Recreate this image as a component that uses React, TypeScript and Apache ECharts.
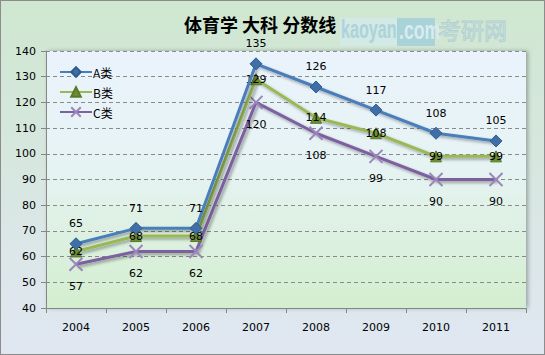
import React, { useEffect, useRef } from "react";
import * as echarts from "echarts";

const years = ["2004", "2005", "2006", "2007", "2008", "2009", "2010", "2011"];
const seriesA = [65, 71, 71, 135, 126, 117, 108, 105];
const seriesB = [62, 68, 68, 129, 114, 108, 99, 99];
const seriesC = [57, 62, 62, 120, 108, 99, 90, 90];
const seriesNames = ["A类", "B类", "C类"];
const titleText = "体育学 大科 分数线";

const FONT = "'DejaVu Sans', 'Noto Sans CJK SC', sans-serif";

export default function App() {
  const ref = useRef<HTMLDivElement>(null);
  useEffect(() => {
    document.body.style.margin = "0";
    const chart = echarts.init(ref.current!, null, { renderer: "svg" });
    const shadow = {
      shadowColor: "rgba(0,0,0,0.35)",
      shadowBlur: 3,
      shadowOffsetX: 2,
      shadowOffsetY: 2,
    };
    const labelStyle = { color: "#000", fontSize: 11, fontFamily: FONT };
    chart.setOption({
      animation: false,
      backgroundColor: new echarts.graphic.LinearGradient(0, 0, 0, 1, [
        { offset: 0, color: "#cfe7d0" },
        { offset: 1, color: "#e0e7f2" },
      ]),
      title: {
        text: titleText,
        left: 178,
        top: 9,
        textStyle: { fontSize: 18, fontWeight: "bold", color: "#000", fontFamily: "'Noto Sans CJK SC', sans-serif" },
      },
      legend: {
        orient: "vertical",
        left: 53,
        top: 60,
        itemGap: 8,
        itemWidth: 32,
        itemHeight: 12,
        textStyle: { fontSize: 12, color: "#000", fontFamily: "'Noto Sans CJK SC', sans-serif", padding: [0, 0, 0, -4] },
        data: seriesNames,
      },
      grid: {
        left: 45,
        right: 18,
        top: 50,
        bottom: 46,
        show: true,
        borderWidth: 0,
        backgroundColor: new echarts.graphic.LinearGradient(0, 0, 0, 1, [
          { offset: 0, color: "#eaf3fc" },
          { offset: 0.45, color: "#e6f3f3" },
          { offset: 1, color: "#d3eecf" },
        ]),
        shadowColor: "rgba(0,0,0,0.3)",
        shadowBlur: 4,
        shadowOffsetX: 2,
        shadowOffsetY: 0,
      },
      xAxis: {
        type: "category",
        data: years,
        boundaryGap: true,
        axisLine: { lineStyle: { color: "#868686", width: 1 } },
        axisTick: { show: true, length: 5, lineStyle: { color: "#868686" } },
        axisLabel: { color: "#000", fontSize: 11, fontFamily: FONT, margin: 14 },
      },
      yAxis: {
        type: "value",
        min: 40,
        max: 140,
        interval: 10,
        axisLine: { show: true, lineStyle: { color: "#868686", width: 1 } },
        axisTick: { show: true, length: 5, lineStyle: { color: "#868686" } },
        axisLabel: { color: "#000", fontSize: 11, fontFamily: FONT, margin: 10 },
        splitLine: { show: true, lineStyle: { color: "#8a8a8a", type: [4, 3], width: 1 } },
      },
      graphic: [
        {
          type: "rect",
          shape: { x: 339, y: 17, width: 57, height: 28 },
          style: { fill: "#d2e9e5" },
          silent: true,
        },
        {
          type: "text",
          x: 340,
          y: 15,
          scaleX: 0.62,
          style: {
            text: "kaoyan",
            font: "bold 26px 'Liberation Sans', sans-serif",
            fill: "#acd3d9",
          },
        },
        {
          type: "rect",
          shape: { x: 396, y: 17, width: 38, height: 28 },
          style: { fill: "#a9d2d9" },
        },
        {
          type: "text",
          x: 398,
          y: 16,
          scaleX: 0.68,
          style: {
            text: ".com",
            font: "bold 26px 'Liberation Sans', sans-serif",
            fill: "#d8ecef",
          },
        },
        {
          type: "text",
          x: 437,
          y: 16,
          style: {
            text: "考研网",
            font: "23px 'Noto Sans CJK SC', sans-serif",
            fill: "rgba(0,0,0,0)",
            stroke: "#b3d0d4",
            lineWidth: 1,
          },
        },
      ],
      series: [
        {
          name: seriesNames[0],
          type: "line",
          data: seriesA,
          symbol: "diamond",
          symbolSize: 12,
          lineStyle: { color: "#4a7ebb", width: 3, ...shadow },
          itemStyle: { color: "#3f6fa6", borderColor: "#2f5d90", borderWidth: 1 },
          label: { show: true, position: "top", distance: 8, ...labelStyle },
          z: 3,
        },
        {
          name: seriesNames[1],
          type: "line",
          data: seriesB,
          symbol: "triangle",
          symbolSize: 11,
          lineStyle: { color: "#98b954", width: 3, ...shadow },
          itemStyle: { color: "#6e8c35", borderColor: "#5a7a2a", borderWidth: 1 },
          label: { show: true, position: "inside", ...labelStyle },
          z: 2,
        },
        {
          name: seriesNames[2],
          type: "line",
          data: seriesC,
          symbol: "path://M0,0 L10,10 M10,0 L0,10",
          symbolSize: 13,
          lineStyle: { color: "#7d60a0", width: 3, ...shadow },
          itemStyle: { color: "rgba(0,0,0,0)", borderColor: "#9a86bb", borderWidth: 2 },
          label: { show: true, position: "bottom", distance: 9, ...labelStyle },
          z: 1,
        },
      ],
    });
    return () => chart.dispose();
  }, []);
  return (
    <div
      ref={ref}
      style={{ position: "absolute", left: 0, top: 0, width: 545, height: 355, boxSizing: "border-box", border: "1px solid #8c8c8c" }}
    />
  );
}
